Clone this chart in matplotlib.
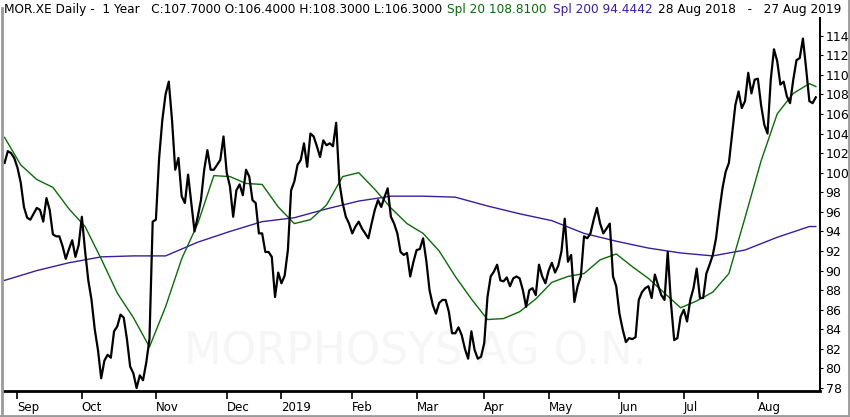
#!/usr/bin/env python3
"""MOR.XE daily close with 20/200 day simple moving averages."""

import matplotlib
matplotlib.use("Agg")
import matplotlib.pyplot as plt
import numpy as np
import pandas as pd

# Xetra trading calendar for the window shown.
start, end = "2018-08-28", "2019-08-27"
holidays = ["2018-12-24", "2018-12-25", "2018-12-26", "2018-12-31",
            "2019-01-01", "2019-04-19", "2019-04-22", "2019-05-01"]

# Daily closes, one per trading day.
close = [
    101.0, 102.2, 102.0, 101.5, 100.5, 99.0, 96.5, 95.4, 95.2, 95.8,
    96.4, 96.2, 95.0, 97.4, 96.2, 93.7, 93.5, 93.5, 92.5, 91.2,
    92.2, 93.1, 91.4, 92.6, 95.5, 92.0, 89.0, 87.0, 84.0, 81.9,
    79.0, 80.8, 81.4, 81.1, 83.8, 84.3, 85.5, 85.2, 83.0, 80.2,
    79.5, 78.0, 79.3, 78.8, 80.6, 83.0, 95.0, 95.2, 101.5, 105.4,
    108.0, 109.3, 105.4, 100.3, 101.5, 97.6, 96.9, 99.8, 96.9, 94.0,
    95.5, 97.2, 100.3, 102.3, 100.3, 100.3, 100.8, 101.3, 103.7, 100.0,
    98.6, 95.5, 98.2, 98.8, 97.7, 100.3, 99.6, 97.2, 96.9, 93.8,
    93.8, 91.9, 91.9, 91.4, 87.3, 89.8, 88.7, 89.5, 92.1, 98.2,
    99.1, 100.8, 101.3, 103.0, 100.6, 104.0, 103.7, 102.7, 101.6, 103.3,
    102.8, 103.0, 102.7, 105.1, 99.0, 96.9, 95.5, 94.8, 93.8, 94.5,
    95.0, 94.3, 93.8, 93.3, 94.8, 96.2, 97.2, 96.5, 97.5, 98.4,
    95.5, 94.8, 93.8, 91.9, 91.6, 91.8, 89.4, 90.9, 92.1, 92.2,
    93.3, 91.0, 88.0, 86.5, 85.6, 86.7, 87.0, 87.0, 85.8, 83.6,
    83.6, 84.2, 83.4, 82.0, 81.0, 83.8, 81.9, 81.0, 81.2, 82.6,
    87.3, 89.4, 89.9, 90.6, 89.0, 88.9, 89.3, 88.4, 89.2, 89.4,
    89.2, 88.0, 86.3, 88.0, 88.2, 87.5, 90.6, 89.4, 88.7, 90.0,
    90.8, 89.8, 90.5, 92.0, 95.3, 90.9, 91.6, 86.8, 88.4, 89.4,
    93.5, 93.3, 93.8, 95.2, 96.4, 94.8, 93.8, 94.3, 94.8, 89.4,
    88.4, 85.6, 84.0, 82.7, 83.1, 83.0, 83.2, 87.0, 87.8, 88.2,
    88.4, 87.2, 89.6, 88.5, 87.5, 87.0, 91.9, 86.7, 82.9, 83.1,
    85.3, 86.0, 84.8, 87.0, 88.2, 90.2, 87.2, 87.2, 89.7, 90.6,
    91.6, 93.3, 96.0, 98.4, 100.1, 101.0, 103.9, 106.9, 108.3, 106.6,
    107.3, 110.2, 108.1, 109.5, 109.6, 106.9, 104.9, 104.0, 109.5, 112.6,
    111.4, 109.0, 109.3, 107.8, 107.1, 109.5, 111.5, 111.7, 113.7, 110.6,
    107.3, 107.1, 107.7,
]

# SMA 20, read every 5th trading day (plus the last day).
sma20 = [
    103.6, 100.8, 99.3, 98.5, 96.3, 94.5, 91.2, 87.7, 85.2, 82.2,
    86.3, 91.2, 94.8, 99.7, 99.6, 98.9, 98.8, 96.5, 94.8, 95.2,
    96.7, 99.6, 100.0, 98.3, 96.4, 94.8, 93.8, 92.0, 89.4, 87.1,
    85.0, 85.1, 85.8, 87.1, 88.8, 89.4, 89.7, 91.1, 91.7, 90.4,
    89.2, 87.7, 86.2, 86.9, 87.8, 89.7, 95.4, 101.2, 106.0, 108.1,
    109.1, 108.8,
]

# SMA 200, read every 10th trading day (plus the last day).
sma200 = [
    89.0, 90.0, 90.8, 91.4, 91.5, 91.5, 92.9, 94.0, 95.0, 95.4,
    96.3, 97.1, 97.6, 97.6, 97.5, 96.6, 95.8, 95.1, 93.8, 93.0,
    92.3, 91.8, 91.5, 92.1, 93.4, 94.5, 94.5,
]

y_ticks = list(range(78, 115, 2))


def main() -> None:
    days = pd.bdate_range(start, end)
    days = days[~days.isin(pd.to_datetime(holidays))]
    n = len(days)
    idx = np.arange(n)

    idx20 = list(range(0, n, 5))
    if idx20[-1] != n - 1:
        idx20.append(n - 1)
    idx200 = list(range(0, n, 10))
    if idx200[-1] != n - 1:
        idx200.append(n - 1)

    W, H = 850, 417
    fig = plt.figure(figsize=(W / 100, H / 100), dpi=100)
    ax = fig.add_axes([3 / W, 26 / H, 817 / W, 373 / H])

    green = "#0b6b0b"
    purple = "#3a1d9a"

    ax.text(0.505, 0.105, "MORPHOSYS AG O.N.", transform=ax.transAxes,
            ha="center", va="center", fontsize=31.5, color="#f6f6f6", zorder=0)

    ax.plot(idx[idx200], sma200, color=purple, lw=1.0, zorder=2)
    ax.plot(idx[idx20], sma20, color=green, lw=1.0, zorder=2)
    ax.plot(idx, close, color="black", lw=1.6, zorder=3)

    ax.set_xlim(-0.5, n + 0.3)
    ax.set_ylim(77.7, 115.8)

    # month ticks at first trading day of each month
    months = pd.Series(idx, index=days).groupby(days.to_period("M")).first()
    tick_pos, tick_lab = [], []
    for per, pos in months.items():
        if pos == 0:
            continue
        tick_pos.append(pos)
        tick_lab.append(str(per.year) if per.month == 1 else days[pos].strftime("%b"))
    ax.set_xticks(tick_pos)
    ax.set_xticklabels(tick_lab, ha="left", fontsize=8.5, family="DejaVu Sans Condensed")
    ax.tick_params(axis="x", direction="out", length=6, width=1.2, pad=1)

    ax.yaxis.tick_right()
    ax.set_yticks(y_ticks)
    ax.set_yticklabels([str(v) for v in y_ticks], fontsize=9)
    ax.tick_params(axis="y", direction="out", length=2, width=0.8, pad=2)

    for side in ("top", "left"):
        ax.spines[side].set_visible(False)
    ax.spines["bottom"].set_linewidth(2.0)
    ax.spines["right"].set_linewidth(1.4)

    # header line
    y_head = 1 - 10 / H
    fs = 8.7
    fig.text(4 / W, y_head, "MOR.XE Daily -  1 Year   C:107.7000 O:106.4000 H:108.3000 L:106.3000",
             fontsize=fs, va="center", ha="left")
    fig.text(447 / W, y_head, "Spl 20 108.8100", color=green, fontsize=fs, va="center", ha="left")
    fig.text(553 / W, y_head, "Spl 200 94.4442", color=purple, fontsize=fs, va="center", ha="left")
    fig.text(658 / W, y_head, "28 Aug 2018   -   27 Aug 2019", fontsize=fs, va="center", ha="left")

    # grey frame around the panel
    frame = dict(color="#9a9a9a", lw=2.0, transform=fig.transFigure)
    fig.add_artist(plt.Line2D([1.5 / W, 1.5 / W], [0, 1 - 8 / H], **frame))
    fig.add_artist(plt.Line2D([1 - 1.5 / W, 1 - 1.5 / W], [0, 1], **frame))
    fig.add_artist(plt.Line2D([0, 1], [1.5 / H, 1.5 / H], **frame))

    fig.savefig("out.png", dpi=100)
    plt.close(fig)


if __name__ == "__main__":
    main()
